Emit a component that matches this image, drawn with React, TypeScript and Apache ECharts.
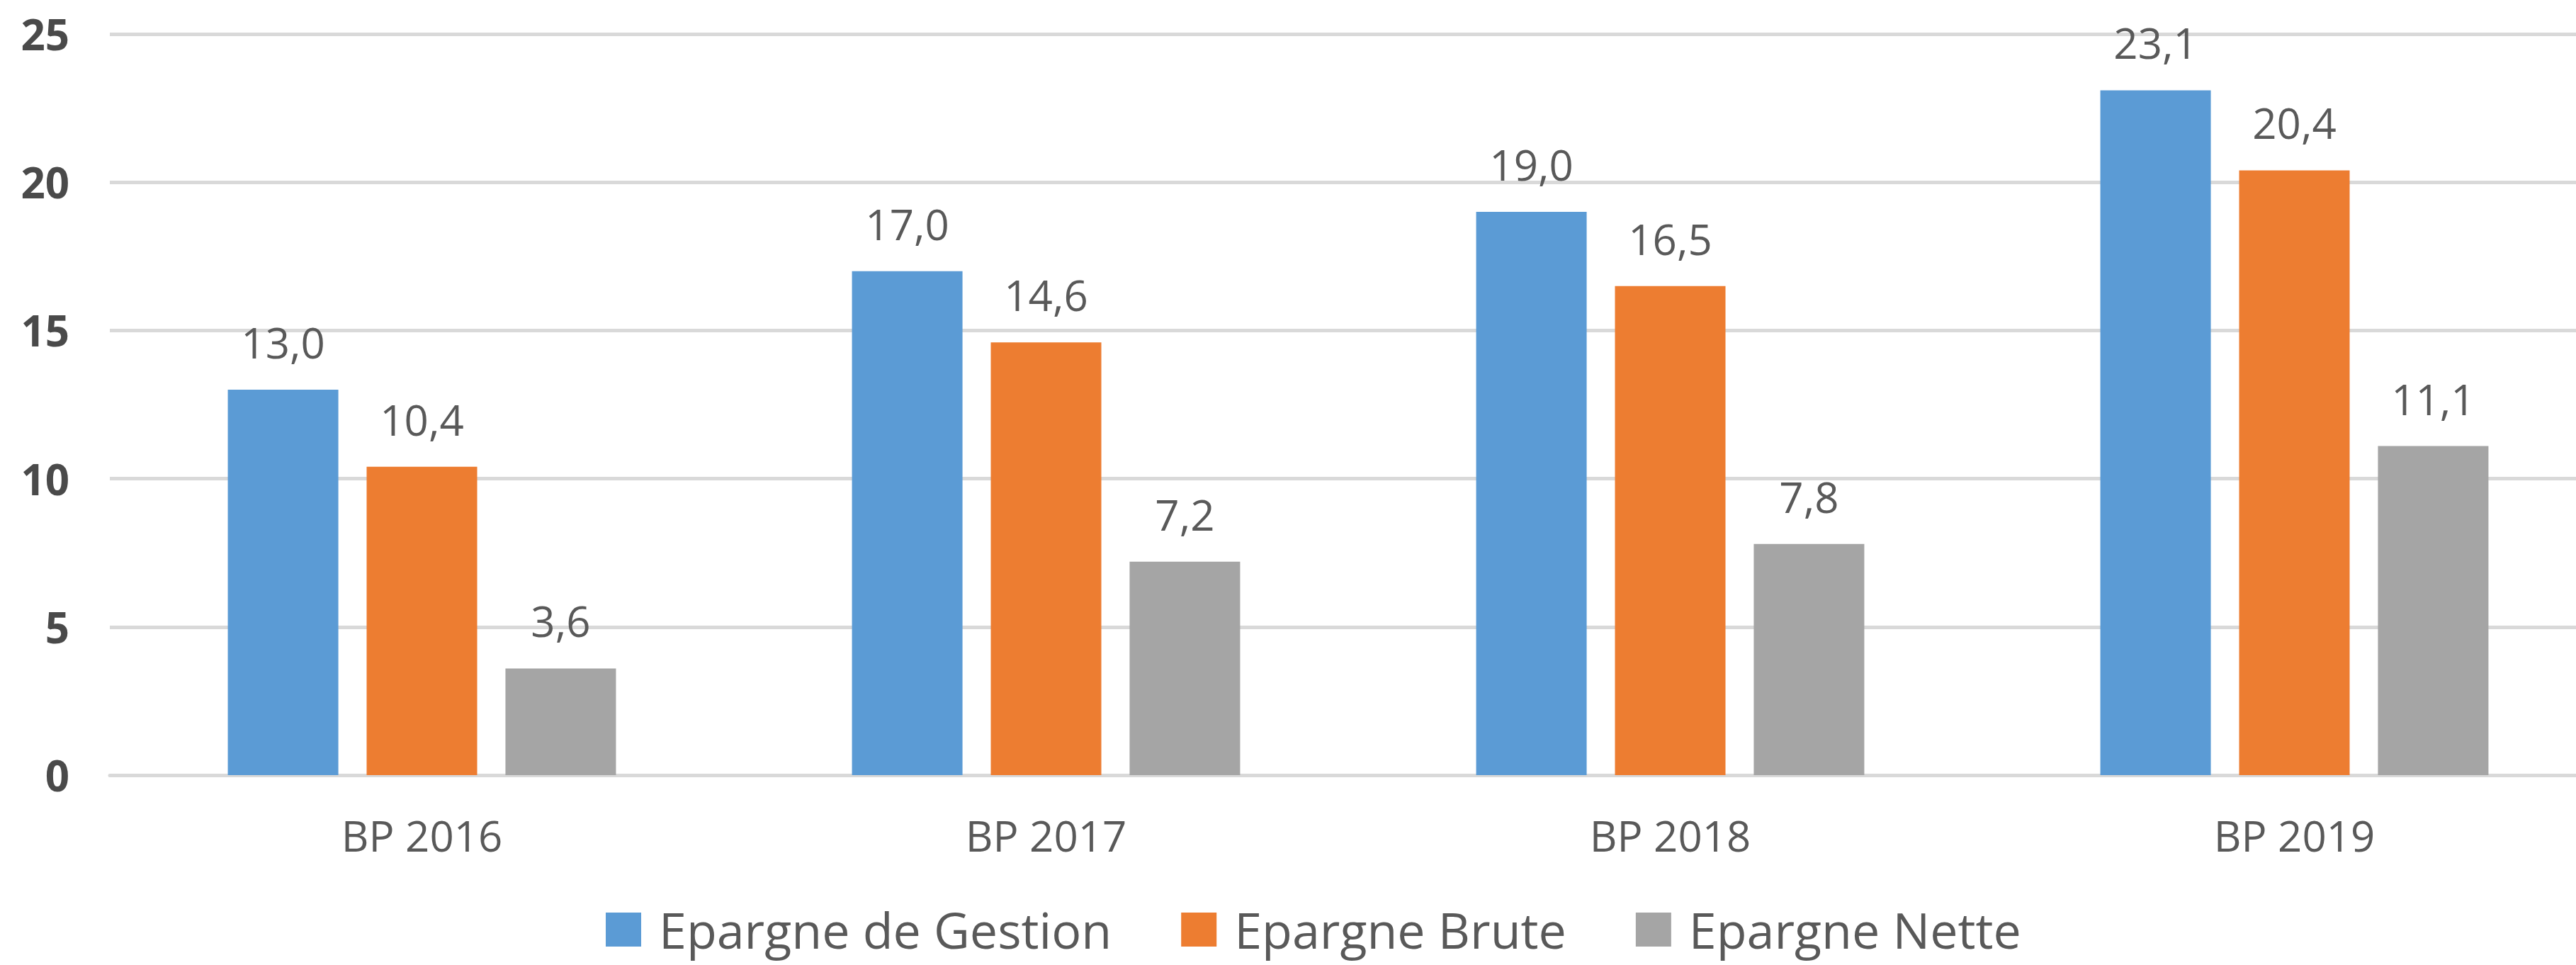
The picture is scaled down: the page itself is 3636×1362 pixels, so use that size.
import React, { useEffect, useRef } from "react";
import * as echarts from "echarts";

const categories = ["BP 2016", "BP 2017", "BP 2018", "BP 2019"];
const seriesNames = ["Epargne de Gestion", "Epargne Brute", "Epargne Nette"];
const gestion = [13.0, 17.0, 19.0, 23.1];
const brute = [10.4, 14.6, 16.5, 20.4];
const nette = [3.6, 7.2, 7.8, 11.1];
const colors = ["#5B9BD5", "#ED7D31", "#A5A5A5"];
const yTicks = { min: 0, max: 25, interval: 5 };

const FONT = "'Open Sans', 'Noto Sans', sans-serif";

export default function App() {
  const ref = useRef<HTMLDivElement>(null);
  useEffect(() => {
    if (!ref.current) return;
    const chart = echarts.init(ref.current, undefined, { renderer: "svg" });
    const fmt = (p: any) => Number(p.value).toFixed(1).replace(".", ",");
    const mk = (name: string, data: number[], color: string) => ({
      name,
      type: "bar",
      data,
      barWidth: 156,
      barGap: "25.6%",
      itemStyle: { color },
      label: {
        show: true,
        position: "top",
        distance: 37,
        formatter: fmt,
        fontFamily: FONT,
        fontSize: 60,
        lineHeight: 60,
        color: "#595959",
      },
    });
    chart.setOption({
      animation: false,
      backgroundColor: "#ffffff",
      grid: { left: 155, right: 0, top: 48, bottom: 268, containLabel: false },
      legend: {
        left: 850,
        top: 1272,
        icon: "rect",
        itemWidth: 50,
        itemHeight: 48,
        itemGap: 98,
        data: seriesNames,
        textStyle: {
          fontFamily: FONT,
          fontSize: 70,
          lineHeight: 70,
          color: "#595959",
          padding: [0, 0, 0, 20],
        },
      },
      xAxis: {
        type: "category",
        data: categories,
        axisLine: { show: true, lineStyle: { color: "#D9D9D9", width: 5 } },
        axisTick: { show: false },
        axisLabel: {
          margin: 55,
          fontFamily: FONT,
          fontSize: 60,
          lineHeight: 60,
          color: "#595959",
        },
      },
      yAxis: {
        type: "value",
        min: yTicks.min,
        max: yTicks.max,
        interval: yTicks.interval,
        axisLine: { show: false },
        axisTick: { show: false },
        splitLine: { lineStyle: { color: "#D9D9D9", width: 5 } },
        axisLabel: {
          margin: 57,
          fontFamily: FONT,
          fontSize: 60,
          fontWeight: "bold",
          color: "#4a4a4a",
        },
      },
      series: [
        mk(seriesNames[0], gestion, colors[0]),
        mk(seriesNames[1], brute, colors[1]),
        mk(seriesNames[2], nette, colors[2]),
      ],
    });
    return () => chart.dispose();
  }, []);
  return (
    <div
      style={{
        position: "absolute",
        left: 0,
        top: 0,
        width: 3636,
        height: 1362,
        overflow: "hidden",
        background: "#fff",
      }}
    >
      <div ref={ref} style={{ width: 3679, height: 1362 }} />
    </div>
  );
}
